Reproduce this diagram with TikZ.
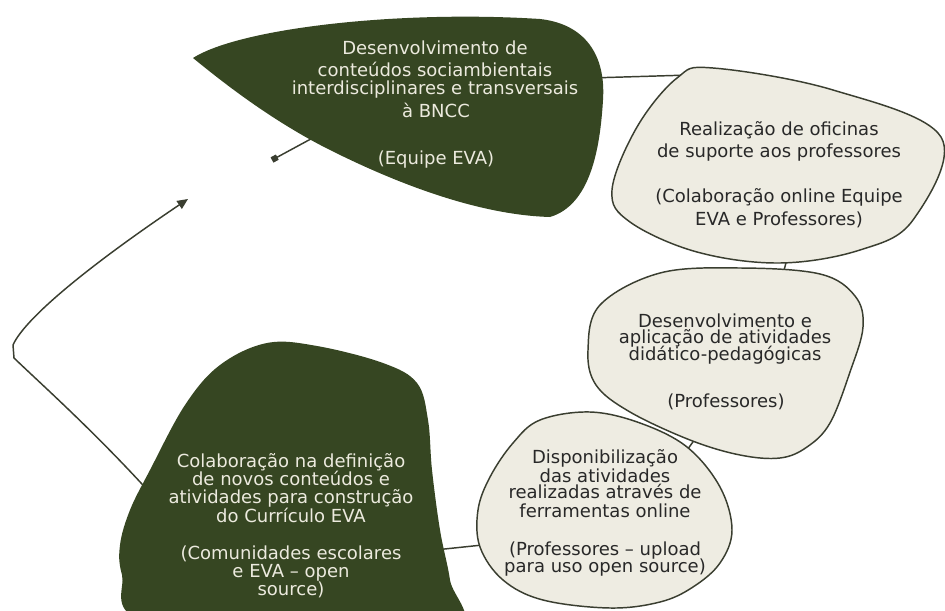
\documentclass[tikz,border=0pt]{standalone}
\usepackage{fontspec}
\setmainfont{DejaVu Sans}
\usetikzlibrary{arrows.meta}
\definecolor{evadark}{RGB}{54,70,34}
\definecolor{evalight}{RGB}{238,236,226}
\definecolor{evaline}{RGB}{58,62,48}
\definecolor{evatextlight}{RGB}{236,234,222}
\definecolor{evatextdark}{RGB}{40,40,40}
\begin{document}
\begin{tikzpicture}[x=0.75pt,y=-0.75pt,
  darkblob/.style={fill=evadark, draw=none},
  lightblob/.style={fill=evalight, draw=evaline, line width=1.1pt},
  conn/.style={draw=evaline, line width=1.1pt},
  ltxt/.style={anchor=base, inner sep=0pt, text=evatextlight, font=\fontsize{13.5}{15}\selectfont},
  dtxt/.style={anchor=base, inner sep=0pt, text=evatextdark, font=\fontsize{13.5}{15}\selectfont}]
\useasboundingbox (0,0) rectangle (945,610);
\fill[white] (0,0) rectangle (945,610);
\clip (0,0) rectangle (945,610);

% attachment coordinates
\coordinate (a1) at (320,134);
\coordinate (sq) at (272,160);
\coordinate (a12) at (590,78);
\coordinate (b12) at (690,75);
\coordinate (a23) at (788,255);
\coordinate (b23) at (782,278);
\coordinate (a34) at (700,432);
\coordinate (b34) at (680,460);
\coordinate (a45) at (492,544);
\coordinate (b45) at (435,550);
\coordinate (a5) at (152,495);
\coordinate (k1) at (14,358);
\coordinate (k2) at (13,345);
\coordinate (tip) at (188,199);

% connectors (behind shapes)
\draw[conn, -{Square[length=4.5pt,width=4.5pt]}] (a1) -- (sq);
\draw[conn] (a12) -- (b12);
\draw[conn] (a23) -- (b23);
\draw[conn] (a34) -- (b34);
\draw[conn] (a45) -- (b45);
\draw[conn, -{Triangle[length=8pt,width=7pt]}] (a5) .. controls (95,432) and (40,383) .. (k1) -- (k2) .. controls (25,318) and (90,265) .. (tip);

% shapes
\path[darkblob] (193,58) .. controls (240,28) and (400,10) .. (540,19)
   .. controls (585,24) and (606,55) .. (603,100)
   .. controls (600,150) and (590,205) .. (550,217)
   .. controls (480,215) and (400,185) .. (330,150)
   .. controls (270,120) and (220,80) .. (193,58) -- cycle;
\path[lightblob] plot[smooth cycle, tension=0.6] coordinates {(612,190) (637,127) (677,78) (713,68) (833,90) (941,137) (913,220) (860,250) (780,263) (697,252) (630,222)};
\path[lightblob] plot[smooth cycle, tension=0.6] coordinates {(588,350) (600,305) (660,273) (740,268) (820,274) (855,296) (863,327) (850,372) (830,423) (807,447) (780,458) (740,455) (690,440) (630,412) (596,385)};
\path[lightblob] plot[smooth cycle, tension=0.6] coordinates {(540,420) (590,412) (640,423) (687,447) (720,487) (732,530) (720,563) (693,587) (660,602) (610,608) (543,600) (503,580) (480,547) (478,510) (490,477) (513,443)};
\path[darkblob] plot[smooth cycle, tension=0.6] coordinates {(267,343) (317,346) (383,363) (417,383) (428,420) (432,470) (440,530) (450,580) (455,630) (300,645) (140,620) (122,575) (120,545) (130,510) (150,470) (185,405) (220,365)};

% texts
\node[ltxt] (t1a) at (435,55) {Desenvolvimento de};
\node[ltxt] (t1b) at (435,77) {conteúdos sociambientais};
\node[ltxt] (t1c) at (435,94) {interdisciplinares e transversais};
\node[ltxt] (t1d) at (436,117) {à BNCC};
\node[ltxt] (t1e) at (436,164) {(Equipe EVA)};

\node[dtxt] (t2a) at (779,135) {Realização de oficinas};
\node[dtxt] (t2b) at (779,157) {de suporte aos professores};
\node[dtxt] (t2c) at (779,202) {(Colaboração online Equipe};
\node[dtxt] (t2d) at (779,225) {EVA e Professores)};

\node[dtxt] (t3a) at (725,327) {Desenvolvimento e};
\node[dtxt] (t3b) at (725,343) {aplicação de atividades};
\node[dtxt] (t3c) at (725,360) {didático-pedagógicas};
\node[dtxt] (t3d) at (726,407) {(Professores)};

\node[dtxt] (t4a) at (605,463) {Disponibilização};
\node[dtxt] (t4b) at (605,482) {das atividades};
\node[dtxt] (t4c) at (605,498) {realizadas através de};
\node[dtxt] (t4d) at (605,517) {ferramentas online};
\node[dtxt] (t4e) at (605,555) {(Professores – upload};
\node[dtxt] (t4f) at (605,572) {para uso open source)};

\node[ltxt] (t5a) at (291,467) {Colaboração na definição};
\node[ltxt] (t5b) at (291,485) {de novos conteúdos e};
\node[ltxt] (t5c) at (291,503) {atividades para construção};
\node[ltxt] (t5d) at (291,522) {do Currículo EVA};
\node[ltxt] (t5e) at (291,559) {(Comunidades escolares};
\node[ltxt] (t5f) at (291,577) {e EVA – open};
\node[ltxt] (t5g) at (291,595) {source)};
\end{tikzpicture}
\end{document}
